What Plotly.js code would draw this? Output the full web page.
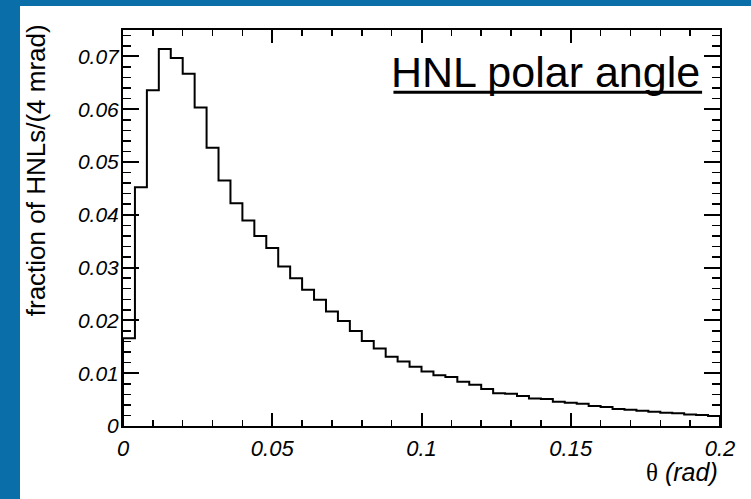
<!DOCTYPE html>
<html>
<head>
<meta charset="utf-8">
<script src="https://cdn.plot.ly/plotly-3.0.1.min.js"></script>
<style>
  html, body { margin: 0; padding: 0; width: 751px; height: 499px; background: #0a6fa8; overflow: hidden; }
  #chart { position: absolute; left: 20px; top: 6px; width: 731px; height: 493px; background: #ffffff; }
</style>
</head>
<body>
<div id="chart"></div>
<script>
// Histogram: HNL polar angle, 50 bins of 4 mrad from 0 to 0.2 rad
const thetaMin = 0.0;
const binWidth = 0.004;
const fractionPerBin = [
  0.0166, 0.0452, 0.0636, 0.0714, 0.0697, 0.0667, 0.0603, 0.0527, 0.0465, 0.0422,
  0.0389, 0.0360, 0.0337, 0.0302, 0.0280, 0.0258, 0.0239, 0.0217, 0.0199, 0.0180,
  0.0161, 0.0147, 0.0131, 0.0122, 0.0112, 0.0103, 0.0096, 0.0093, 0.0084, 0.0078,
  0.0070, 0.0062, 0.0061, 0.0057, 0.0052, 0.0051, 0.0046, 0.0044, 0.0042, 0.0038,
  0.0036, 0.0032, 0.0031, 0.0029, 0.0027, 0.0025, 0.0024, 0.0022, 0.0021, 0.0019
];
const titleText = "HNL polar angle";
const xTitleText = "θ";
const xUnitText = "(rad)";
const yTitleText = "fraction of HNLs/(4 mrad)";

// Step outline (hv) built from bin edges
const xs = [thetaMin];
const ys = [0];
for (let i = 0; i < fractionPerBin.length; i++) {
  xs.push(thetaMin + i * binWidth);
  ys.push(fractionPerBin[i]);
}
xs.push(thetaMin + fractionPerBin.length * binWidth);
ys.push(fractionPerBin[fractionPerBin.length - 1]);
xs.push(thetaMin + fractionPerBin.length * binWidth);
ys.push(0);

const FONT = "Liberation Sans, Arial, Helvetica, sans-serif";

const trace = {
  type: "scatter",
  mode: "lines",
  x: xs,
  y: ys,
  line: { shape: "hv", color: "#000000", width: 2 },
  hoverinfo: "skip",
  showlegend: false
};

const axisCommon = {
  showline: true,
  linecolor: "#000000",
  linewidth: 2,
  mirror: "allticks",
  ticks: "inside",
  tickcolor: "#000000",
  tickwidth: 2,
  showgrid: false,
  zeroline: false
};

const layout = {
  width: 731,
  height: 493,
  paper_bgcolor: "#ffffff",
  plot_bgcolor: "#ffffff",
  margin: { l: 103, r: 31, t: 24, b: 73 },
  xaxis: Object.assign({}, axisCommon, {
    range: [0, 0.2],
    tickmode: "linear",
    tick0: 0,
    dtick: 0.05,
    ticklen: 13,
    ticklabelstandoff: 2,
    tickfont: { family: FONT, size: 22, color: "#000000", style: "italic" },
    minor: { dtick: 0.01, ticks: "inside", ticklen: 6, tickcolor: "#000000", tickwidth: 1.5, showgrid: false }
  }),
  yaxis: Object.assign({}, axisCommon, {
    range: [0, 0.075],
    tickmode: "linear",
    tick0: 0,
    dtick: 0.01,
    ticklen: 16,
    ticklabelstandoff: -2,
    tickfont: { family: FONT, size: 21, color: "#000000", style: "italic" },
    minor: { dtick: 0.002, ticks: "inside", ticklen: 8, tickcolor: "#000000", tickwidth: 1.5, showgrid: false }
  }),
  annotations: [
    {
      xref: "paper", yref: "paper", x: 0.97, y: 0.96,
      xanchor: "right", yanchor: "top",
      text: titleText, showarrow: false,
      font: { family: FONT, size: 43, color: "#000000" }
    },
    {
      xref: "paper", yref: "paper", x: 1.0, y: -0.075,
      xanchor: "right", yanchor: "top",
      text: '<span style="font-family:Liberation Serif, Times New Roman, serif">' + xTitleText + '</span> <i>' + xUnitText + '</i>',
      showarrow: false,
      font: { family: FONT, size: 25, color: "#000000" }
    },
    {
      xref: "paper", yref: "paper", x: -0.117, y: 1.02,
      xanchor: "right", yanchor: "top",
      textangle: -90,
      text: yTitleText, showarrow: false,
      font: { family: FONT, size: 26, color: "#000000" }
    }
  ],
  shapes: [
    {
      type: "line", xref: "paper", yref: "paper",
      x0: 0.453, x1: 0.97, y0: 0.843, y1: 0.843,
      line: { color: "#000000", width: 3 }
    }
  ]
};

Plotly.newPlot("chart", [trace], layout, { displayModeBar: false, staticPlot: true });
</script>
</body>
</html>
